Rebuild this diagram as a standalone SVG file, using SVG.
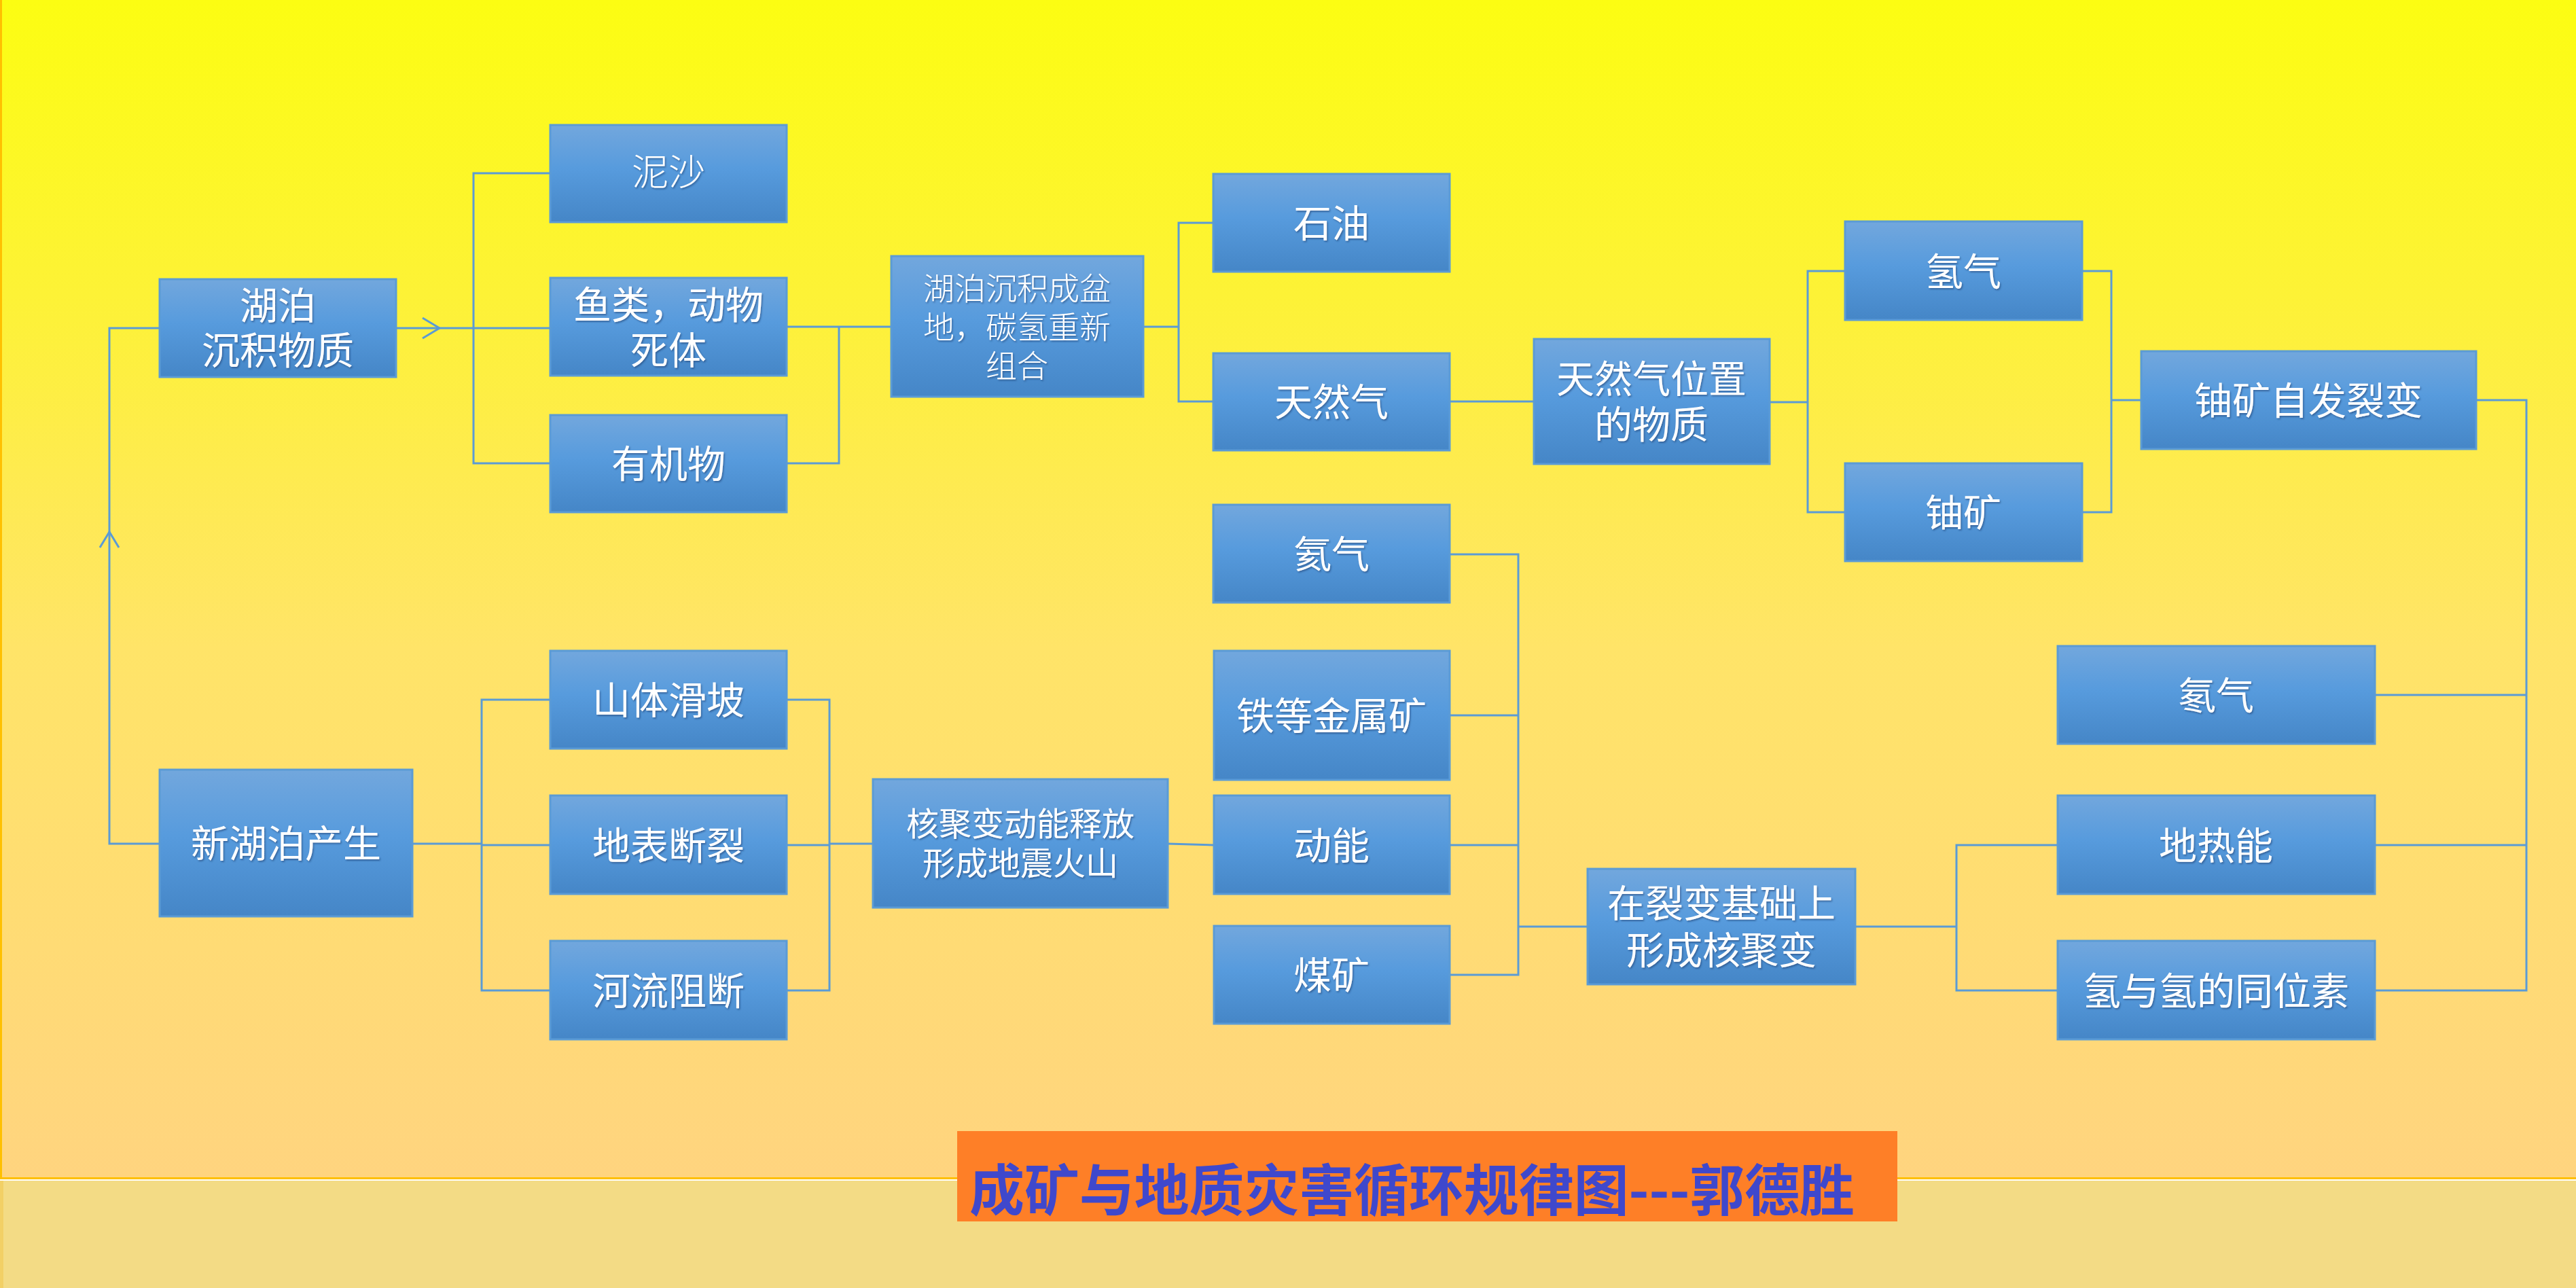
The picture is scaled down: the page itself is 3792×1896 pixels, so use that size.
<svg xmlns="http://www.w3.org/2000/svg" width="3792" height="1896" viewBox="0 0 3792 1896">
<defs>
<linearGradient id="bg" x1="0" y1="0" x2="0" y2="1">
<stop offset="0" stop-color="#FCFD12"/>
<stop offset="0.25" stop-color="#FDF236"/>
<stop offset="0.55" stop-color="#FFE468"/>
<stop offset="1" stop-color="#FFD47F"/>
</linearGradient>
<linearGradient id="box" x1="0" y1="0" x2="0" y2="1">
<stop offset="0" stop-color="#72A7DD"/>
<stop offset="0.45" stop-color="#579BDD"/>
<stop offset="1" stop-color="#4586C7"/>
</linearGradient>
<filter id="ts" x="-10%" y="-10%" width="120%" height="130%">
<feDropShadow dx="1.5" dy="2" stdDeviation="1" flood-color="#1F3F6F" flood-opacity="0.55"/>
</filter>
</defs>
<style>
.nb{fill:url(#box);stroke:#5B9BD5;stroke-width:3}
.t{fill:#FFFFFF;font-family:"Noto Sans CJK SC","Noto Sans",sans-serif;font-size:56px;text-anchor:middle;filter:url(#ts)}
.ts{font-size:48px}
.tx{font-size:46px;font-weight:300}
.c{fill:none;stroke:#5B9BD5;stroke-width:3}
</style>
<rect x="0" y="0" width="3792" height="1734" fill="url(#bg)"/>
<path d="M1.5 0 V1734 M0 1734.5 H3792" stroke="#FFC000" stroke-width="3" fill="none"/>
<rect x="0" y="1736" width="3792" height="2" fill="#FFFFFF"/>
<rect x="0" y="1738" width="3792" height="158" fill="#F3DB85"/>
<rect x="0" y="1738" width="5" height="158" fill="#F2D066"/>

<g id="connectors">
<path class="c" d="M583 483 H810"/>
<path class="c" d="M622 468 L647 483 L622 498"/>
<path class="c" d="M810 255 H697 V682 H810"/>
<path class="c" d="M1158 481 H1312 M1235 481 V682 H1158"/>
<path class="c" d="M1683 481 H1735 M1786 328 H1735 V591 H1786"/>
<path class="c" d="M2134 591 H2258"/>
<path class="c" d="M2605 592 H2661 M2716 399 H2661 V754 H2716"/>
<path class="c" d="M3065 399 H3108 V754 H3065 M3108 589 H3152"/>
<path class="c" d="M3645 589 H3719 V1458 H3496 M3496 1023 H3719 M3496 1244 H3719"/>
<path class="c" d="M2731 1364 H2880 M3029 1244 H2880 V1458 H3029"/>
<path class="c" d="M2134 816 H2235 V1435 H2134 M2134 1053 H2235 M2134 1244 H2235 M2235 1364 H2337"/>
<path class="c" d="M1719 1242 L1787 1244"/>
<path class="c" d="M607 1242 H709 M810 1030 H709 V1458 H810 M709 1244 H810"/>
<path class="c" d="M1158 1030 H1221 V1458 H1158 M1158 1244 H1221 M1221 1242 H1285"/>
<path class="c" d="M235 1242 H161 V483 H235"/>
<path class="c" d="M147 806 L161 783 L175 806"/>
</g>

<g id="n_hupo"><rect class="nb" x="235" y="411" width="348" height="144"/><text class="t" x="409" y="470">湖泊<tspan x="409" dy="66">沉积物质</tspan></text></g>
<g id="n_nisha"><rect class="nb" x="810" y="184" width="348" height="143"/><text class="t tx" x="984" y="273" style="font-size:54px">泥沙</text></g>
<g id="n_yulei"><rect class="nb" x="810" y="409" width="348" height="144"/><text class="t" x="984" y="469">鱼类，动物<tspan x="984" dy="67">死体</tspan></text></g>
<g id="n_youji"><rect class="nb" x="810" y="611" width="348" height="143"/><text class="t" x="984" y="703">有机物</text></g>
<g id="n_pendi"><rect class="nb" x="1312" y="377" width="371" height="207"/><text class="t tx" x="1497" y="441">湖泊沉积成盆<tspan x="1497" dy="57">地，碳氢重新</tspan><tspan x="1497" dy="57">组合</tspan></text></g>
<g id="n_shiyou"><rect class="nb" x="1786" y="256" width="348" height="144"/><text class="t" x="1960" y="349">石油</text></g>
<g id="n_tianranqi"><rect class="nb" x="1786" y="520" width="348" height="143"/><text class="t" x="1960" y="612">天然气</text></g>
<g id="n_weizhi"><rect class="nb" x="2258" y="499" width="347" height="184"/><text class="t" x="2431" y="578">天然气位置<tspan x="2431" dy="67">的物质</tspan></text></g>
<g id="n_qingqi"><rect class="nb" x="2716" y="326" width="349" height="145"/><text class="t" x="2890" y="420">氢气</text></g>
<g id="n_youkuang"><rect class="nb" x="2716" y="682" width="349" height="144"/><text class="t" x="2890" y="775">铀矿</text></g>
<g id="n_liebian"><rect class="nb" x="3152" y="517" width="493" height="144"/><text class="t" x="3398" y="610">铀矿自发裂变</text></g>
<g id="n_haiqi"><rect class="nb" x="1786" y="743" width="348" height="144"/><text class="t" x="1960" y="836">氦气</text></g>
<g id="n_tie"><rect class="nb" x="1787" y="958" width="347" height="190"/><text class="t" x="1960" y="1074">铁等金属矿</text></g>
<g id="n_dongneng"><rect class="nb" x="1787" y="1171" width="347" height="145"/><text class="t" x="1960" y="1265">动能</text></g>
<g id="n_meikuang"><rect class="nb" x="1787" y="1363" width="347" height="144"/><text class="t" x="1960" y="1456">煤矿</text></g>
<g id="n_juxin"><rect class="nb" x="2337" y="1279" width="394" height="170"/><text class="t" x="2534" y="1350">在裂变基础上<tspan x="2534" dy="69">形成核聚变</tspan></text></g>
<g id="n_dongqi"><rect class="nb" x="3029" y="951" width="467" height="144"/><text class="t" x="3262" y="1044">氡气</text></g>
<g id="n_dire"><rect class="nb" x="3029" y="1171" width="467" height="145"/><text class="t" x="3262" y="1265">地热能</text></g>
<g id="n_tongwei"><rect class="nb" x="3029" y="1385" width="467" height="145"/><text class="t" x="3262" y="1479">氢与氢的同位素</text></g>
<g id="n_xinhupo"><rect class="nb" x="235" y="1133" width="372" height="216"/><text class="t" x="421" y="1262">新湖泊产生</text></g>
<g id="n_huapo"><rect class="nb" x="810" y="958" width="348" height="144"/><text class="t" x="984" y="1051">山体滑坡</text></g>
<g id="n_duanlie"><rect class="nb" x="810" y="1171" width="348" height="145"/><text class="t" x="984" y="1265">地表断裂</text></g>
<g id="n_zuduan"><rect class="nb" x="810" y="1385" width="348" height="145"/><text class="t" x="984" y="1479">河流阻断</text></g>
<g id="n_hejubian"><rect class="nb" x="1285" y="1147" width="434" height="189"/><text class="t ts" x="1502" y="1230">核聚变动能释放<tspan x="1502" dy="58">形成地震火山</tspan></text></g>

<g id="title">
<rect x="1409" y="1665" width="1384" height="133" fill="#FE7F27"/>
<text x="1427" y="1782" textLength="1303" lengthAdjust="spacingAndGlyphs" style="fill:#3F48CC;font-family:'Noto Sans CJK SC','Noto Sans',sans-serif;font-size:82px;font-weight:bold">成矿与地质灾害循环规律图---郭德胜</text>
</g>
</svg>
